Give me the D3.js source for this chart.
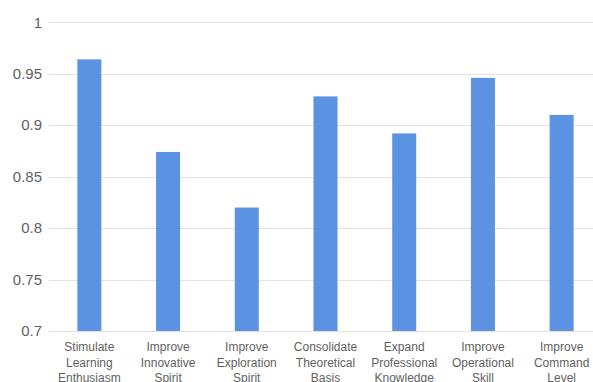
<!DOCTYPE html>
<html><head><meta charset="utf-8">
<script src="https://cdn.jsdelivr.net/npm/d3@7"></script>
<style>body{margin:0;background:#fff;}svg{display:block;font-family:"Liberation Sans",Arial,sans-serif;}</style>
</head><body><svg id="c" width="593" height="382"></svg>
<script>
const categories = [
  ["Stimulate","Learning","Enthusiasm"],
  ["Improve","Innovative","Spirit"],
  ["Improve","Exploration","Spirit"],
  ["Consolidate","Theoretical","Basis"],
  ["Expand","Professional","Knowledge"],
  ["Improve","Operational","Skill"],
  ["Improve","Command","Level"]
];
const values = [0.964, 0.874, 0.820, 0.928, 0.892, 0.946, 0.910];
const yTicks = [0.7, 0.75, 0.8, 0.85, 0.9, 0.95, 1];
const yTickLabels = ["0.7", "0.75", "0.8", "0.85", "0.9", "0.95", "1"];

const svg = d3.select("#c");
const y = d3.scaleLinear().domain([0.7, 1]).range([331, 22.3]);
const x = d3.scaleBand().domain(d3.range(categories.length)).range([50, 601]).paddingInner(0.695).paddingOuter(0.3475);

svg.append("g").selectAll("line").data(yTicks).join("line")
  .attr("x1", 49).attr("x2", 593)
  .attr("y1", d => Math.round(y(d)) + 0.5).attr("y2", d => Math.round(y(d)) + 0.5)
  .attr("stroke", "#e3e3e3").attr("stroke-width", 1.2);

svg.append("g").selectAll("text").data(yTicks).join("text")
  .attr("x", 42).attr("y", d => y(d)).attr("dy", "0.35em")
  .attr("text-anchor", "end").attr("font-size", 15).attr("fill", "#5f5f5f")
  .text((d, i) => yTickLabels[i]);

svg.append("g").selectAll("rect").data(values).join("rect")
  .attr("x", (d, i) => x(i)).attr("width", x.bandwidth())
  .attr("y", d => y(d)).attr("height", d => y(0.7) - y(d))
  .attr("fill", "#5b93e2");

const lbl = svg.append("g").selectAll("text").data(categories).join("text")
  .attr("x", (d, i) => x(i) + x.bandwidth() / 2).attr("y", 351)
  .attr("text-anchor", "middle").attr("font-size", 12).attr("fill", "#5f5f5f");
lbl.selectAll("tspan").data(d => d).join("tspan")
  .attr("x", function() { return d3.select(this.parentNode).attr("x"); })
  .attr("dy", (d, i) => i === 0 ? 0 : 15.5)
  .text(d => d);
</script></body></html>
